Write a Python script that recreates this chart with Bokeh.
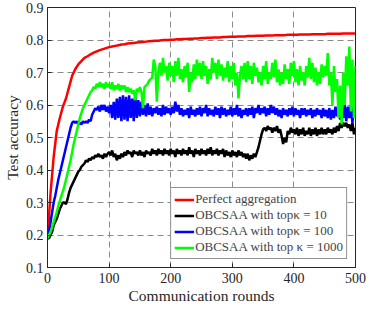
from bokeh.plotting import figure
from bokeh.models import Range1d, FixedTicker, Legend
from bokeh.embed import file_html
from bokeh.resources import INLINE

# rounds for the smooth curve (every 5) and for the noisy curves (every 2.5)
rounds_red = list(range(0, 505, 5))
rounds = [i * 2.5 for i in range(201)]

perfect = [0.19, 0.33, 0.44, 0.52, 0.56, 0.595, 0.62, 0.655, 0.69, 0.71,
           0.725, 0.735, 0.745, 0.75, 0.756, 0.761, 0.765, 0.769, 0.772, 0.775,
           0.778, 0.78, 0.782, 0.784, 0.786, 0.787, 0.789, 0.79, 0.791, 0.792,
           0.793, 0.794, 0.795, 0.796, 0.797, 0.798, 0.798, 0.799, 0.8, 0.8,
           0.801, 0.801, 0.802, 0.802, 0.803, 0.803, 0.804, 0.804, 0.805, 0.805,
           0.806, 0.806, 0.807, 0.807, 0.808, 0.808, 0.808, 0.809, 0.809, 0.81,
           0.81, 0.81, 0.811, 0.811, 0.811, 0.812, 0.812, 0.812, 0.813, 0.813,
           0.813, 0.814, 0.814, 0.814, 0.815, 0.815, 0.815, 0.815, 0.816, 0.816,
           0.816, 0.816, 0.817, 0.817, 0.817, 0.817, 0.818, 0.818, 0.818, 0.818,
           0.818, 0.819, 0.819, 0.819, 0.819, 0.819, 0.82, 0.82, 0.82, 0.82, 0.82]

top10 = [0.19, 0.19, 0.20, 0.21, 0.23, 0.24, 0.25, 0.265, 0.28, 0.29,
         0.30, 0.30, 0.295, 0.31, 0.33, 0.345, 0.355, 0.365, 0.375, 0.385,
         0.395, 0.40, 0.41, 0.415, 0.42, 0.43, 0.425, 0.435, 0.43, 0.44,
         0.435, 0.445, 0.44, 0.45, 0.44, 0.445, 0.435, 0.45, 0.44, 0.45,
         0.455, 0.445, 0.46, 0.44, 0.45, 0.43, 0.445, 0.435, 0.45, 0.44,
         0.455, 0.445, 0.46, 0.45, 0.455, 0.44, 0.46, 0.45, 0.455, 0.445,
         0.46, 0.445, 0.455, 0.44, 0.46, 0.45, 0.455, 0.445, 0.465, 0.45,
         0.46, 0.445, 0.465, 0.45, 0.46, 0.445, 0.465, 0.45, 0.46, 0.445,
         0.465, 0.45, 0.46, 0.44, 0.465, 0.45, 0.46, 0.445, 0.465, 0.45,
         0.46, 0.445, 0.47, 0.45, 0.46, 0.44, 0.465, 0.45, 0.46, 0.445,
         0.465, 0.45, 0.46, 0.445, 0.465, 0.45, 0.47, 0.445, 0.46, 0.45,
         0.465, 0.445, 0.46, 0.45, 0.465, 0.44, 0.46, 0.445, 0.455, 0.44,
         0.46, 0.445, 0.455, 0.44, 0.46, 0.445, 0.455, 0.44, 0.45, 0.435,
         0.45, 0.43, 0.445, 0.435, 0.45, 0.44, 0.455, 0.47, 0.49, 0.51,
         0.525, 0.53, 0.52, 0.535, 0.525, 0.53, 0.515, 0.53, 0.52, 0.535,
         0.515, 0.525, 0.505, 0.48, 0.50, 0.485, 0.52, 0.51, 0.53, 0.515,
         0.525, 0.51, 0.53, 0.505, 0.525, 0.51, 0.53, 0.505, 0.52, 0.51,
         0.53, 0.505, 0.525, 0.51, 0.53, 0.505, 0.525, 0.51, 0.53, 0.51,
         0.525, 0.51, 0.53, 0.515, 0.525, 0.51, 0.53, 0.515, 0.535, 0.52,
         0.545, 0.53, 0.545, 0.535, 0.545, 0.53, 0.54, 0.52, 0.545, 0.51, 0.53]

top100 = [0.19, 0.21, 0.24, 0.27, 0.30, 0.32, 0.345, 0.37, 0.39, 0.41,
          0.43, 0.45, 0.47, 0.49, 0.51, 0.53, 0.545, 0.55, 0.545, 0.55,
          0.54, 0.545, 0.54, 0.55, 0.545, 0.55, 0.545, 0.555, 0.55, 0.57,
          0.58, 0.59, 0.585, 0.595, 0.58, 0.60, 0.585, 0.60, 0.58, 0.595,
          0.575, 0.60, 0.56, 0.61, 0.555, 0.62, 0.56, 0.625, 0.55, 0.63,
          0.555, 0.625, 0.55, 0.63, 0.56, 0.62, 0.55, 0.63, 0.56, 0.615,
          0.565, 0.61, 0.57, 0.60, 0.565, 0.605, 0.57, 0.595, 0.565, 0.59,
          0.575, 0.595, 0.57, 0.59, 0.565, 0.60, 0.57, 0.595, 0.575, 0.59,
          0.57, 0.595, 0.575, 0.61, 0.58, 0.60, 0.57, 0.59, 0.565, 0.585,
          0.57, 0.59, 0.56, 0.595, 0.57, 0.585, 0.565, 0.59, 0.57, 0.595,
          0.565, 0.59, 0.575, 0.60, 0.565, 0.59, 0.57, 0.585, 0.565, 0.595,
          0.57, 0.59, 0.56, 0.595, 0.57, 0.59, 0.565, 0.585, 0.57, 0.595,
          0.565, 0.59, 0.57, 0.60, 0.565, 0.59, 0.56, 0.585, 0.57, 0.59,
          0.565, 0.59, 0.57, 0.595, 0.56, 0.59, 0.575, 0.60, 0.57, 0.59,
          0.575, 0.595, 0.565, 0.59, 0.57, 0.60, 0.575, 0.595, 0.57, 0.59,
          0.565, 0.585, 0.56, 0.59, 0.57, 0.585, 0.565, 0.59, 0.57, 0.595,
          0.565, 0.59, 0.57, 0.585, 0.56, 0.59, 0.57, 0.59, 0.565, 0.585,
          0.57, 0.59, 0.56, 0.585, 0.565, 0.59, 0.57, 0.585, 0.56, 0.59,
          0.565, 0.585, 0.56, 0.59, 0.555, 0.585, 0.56, 0.595, 0.565, 0.59,
          0.555, 0.59, 0.56, 0.60, 0.55, 0.595, 0.56, 0.60, 0.545, 0.595, 0.58]

top1000 = [0.19, 0.20, 0.21, 0.225, 0.24, 0.255, 0.27, 0.29, 0.305, 0.32,
           0.335, 0.35, 0.37, 0.39, 0.41, 0.43, 0.455, 0.48, 0.50, 0.52,
           0.54, 0.56, 0.575, 0.59, 0.60, 0.61, 0.62, 0.63, 0.64, 0.645,
           0.655, 0.65, 0.665, 0.655, 0.67, 0.655, 0.665, 0.65, 0.67, 0.655,
           0.665, 0.65, 0.67, 0.645, 0.66, 0.65, 0.665, 0.645, 0.66, 0.65,
           0.66, 0.64, 0.655, 0.64, 0.65, 0.635, 0.645, 0.615, 0.65, 0.64,
           0.655, 0.64, 0.59, 0.655, 0.66, 0.665, 0.675, 0.68, 0.685, 0.74,
           0.72, 0.61, 0.70, 0.73, 0.69, 0.745, 0.70, 0.72, 0.675, 0.73,
           0.69, 0.72, 0.67, 0.735, 0.69, 0.745, 0.68, 0.71, 0.67, 0.72,
           0.685, 0.73, 0.64, 0.70, 0.67, 0.725, 0.68, 0.74, 0.69, 0.73,
           0.68, 0.735, 0.69, 0.72, 0.665, 0.71, 0.68, 0.745, 0.70, 0.73,
           0.68, 0.74, 0.69, 0.725, 0.675, 0.715, 0.685, 0.735, 0.67, 0.72,
           0.68, 0.73, 0.66, 0.70, 0.62, 0.69, 0.72, 0.68, 0.73, 0.67,
           0.735, 0.68, 0.72, 0.665, 0.73, 0.69, 0.715, 0.67, 0.70, 0.66,
           0.72, 0.68, 0.735, 0.665, 0.70, 0.68, 0.73, 0.685, 0.74, 0.67,
           0.71, 0.66, 0.70, 0.665, 0.725, 0.68, 0.71, 0.665, 0.73, 0.69,
           0.735, 0.67, 0.71, 0.66, 0.72, 0.675, 0.70, 0.66, 0.72, 0.685,
           0.745, 0.68, 0.73, 0.67, 0.715, 0.66, 0.70, 0.665, 0.725, 0.685,
           0.72, 0.69, 0.76, 0.66, 0.70, 0.60, 0.72, 0.64, 0.68, 0.56,
           0.66, 0.54, 0.70, 0.60, 0.75, 0.66, 0.78, 0.58, 0.74, 0.56, 0.72]

x_ticks = [0, 100, 200, 300, 400, 500]
y_ticks = [0.1, 0.2, 0.3, 0.4, 0.5, 0.6, 0.7, 0.8, 0.9]

series = [
    ("Perfect aggregation", rounds_red, perfect, "#FF0000"),
    ("OBCSAA with top\u03ba = 10", rounds, top10, "#000000"),
    ("OBCSAA with top\u03ba = 100", rounds, top100, "#0000FF"),
    ("OBCSAA with top \u03ba = 1000", rounds, top1000, "#00FF00"),
]

FONT = "Liberation Serif"

p = figure(width=366, height=306, output_backend="svg", toolbar_location=None,
           x_range=Range1d(0, 500), y_range=Range1d(0.1, 0.9),
           min_border_left=36, min_border_right=11, min_border_top=7, min_border_bottom=38)
p.background_fill_color = "white"
p.border_fill_color = "white"
p.outline_line_color = "#262626"
p.outline_line_width = 1

p.xaxis.ticker = FixedTicker(ticks=x_ticks)
p.yaxis.ticker = FixedTicker(ticks=y_ticks)
p.yaxis.major_label_overrides = {t: f"{t:.1f}" for t in y_ticks}
p.xgrid.ticker = FixedTicker(ticks=x_ticks)
p.ygrid.ticker = FixedTicker(ticks=y_ticks)
for g in (p.xgrid, p.ygrid):
    g.grid_line_color = "#8a8a8a"
    g.grid_line_dash = "6 4"
    g.grid_line_width = 1

for ax in (p.xaxis, p.yaxis):
    ax.axis_line_color = "#262626"
    ax.major_tick_in = 4
    ax.major_tick_out = 0
    ax.minor_tick_line_color = None
    ax.major_tick_line_color = "#262626"
    ax.major_label_text_font = FONT
    ax.major_label_text_font_size = "14px"
    ax.major_label_text_color = "#262626"
    ax.axis_label_text_font = FONT
    ax.axis_label_text_font_size = "15.5px"
    ax.axis_label_text_font_style = "normal"
    ax.axis_label_text_color = "#262626"

p.xaxis.axis_label = "Communication rounds"
p.yaxis.axis_label = "Test accuracy"
p.xaxis.major_label_standoff = 5
p.xaxis.axis_label_standoff = 1
p.yaxis.major_label_standoff = 4
p.yaxis.axis_label_standoff = 2

items = []
for label, xs, ys, color in series:
    r = p.line(xs, ys, line_color=color, line_width=2.5)
    items.append((label, [r]))

legend = Legend(items=items, location="bottom_right")
legend.margin = 8
legend.padding = 3
legend.spacing = 0
legend.label_text_font = FONT
legend.label_text_font_size = "13px"
legend.label_height = 15
legend.glyph_height = 15
legend.glyph_width = 20
legend.label_standoff = 1
legend.border_line_color = "#262626"
legend.border_line_width = 1
legend.background_fill_alpha = 1
p.add_layout(legend, "center")

open("out.html", "w").write(file_html(p, INLINE))
